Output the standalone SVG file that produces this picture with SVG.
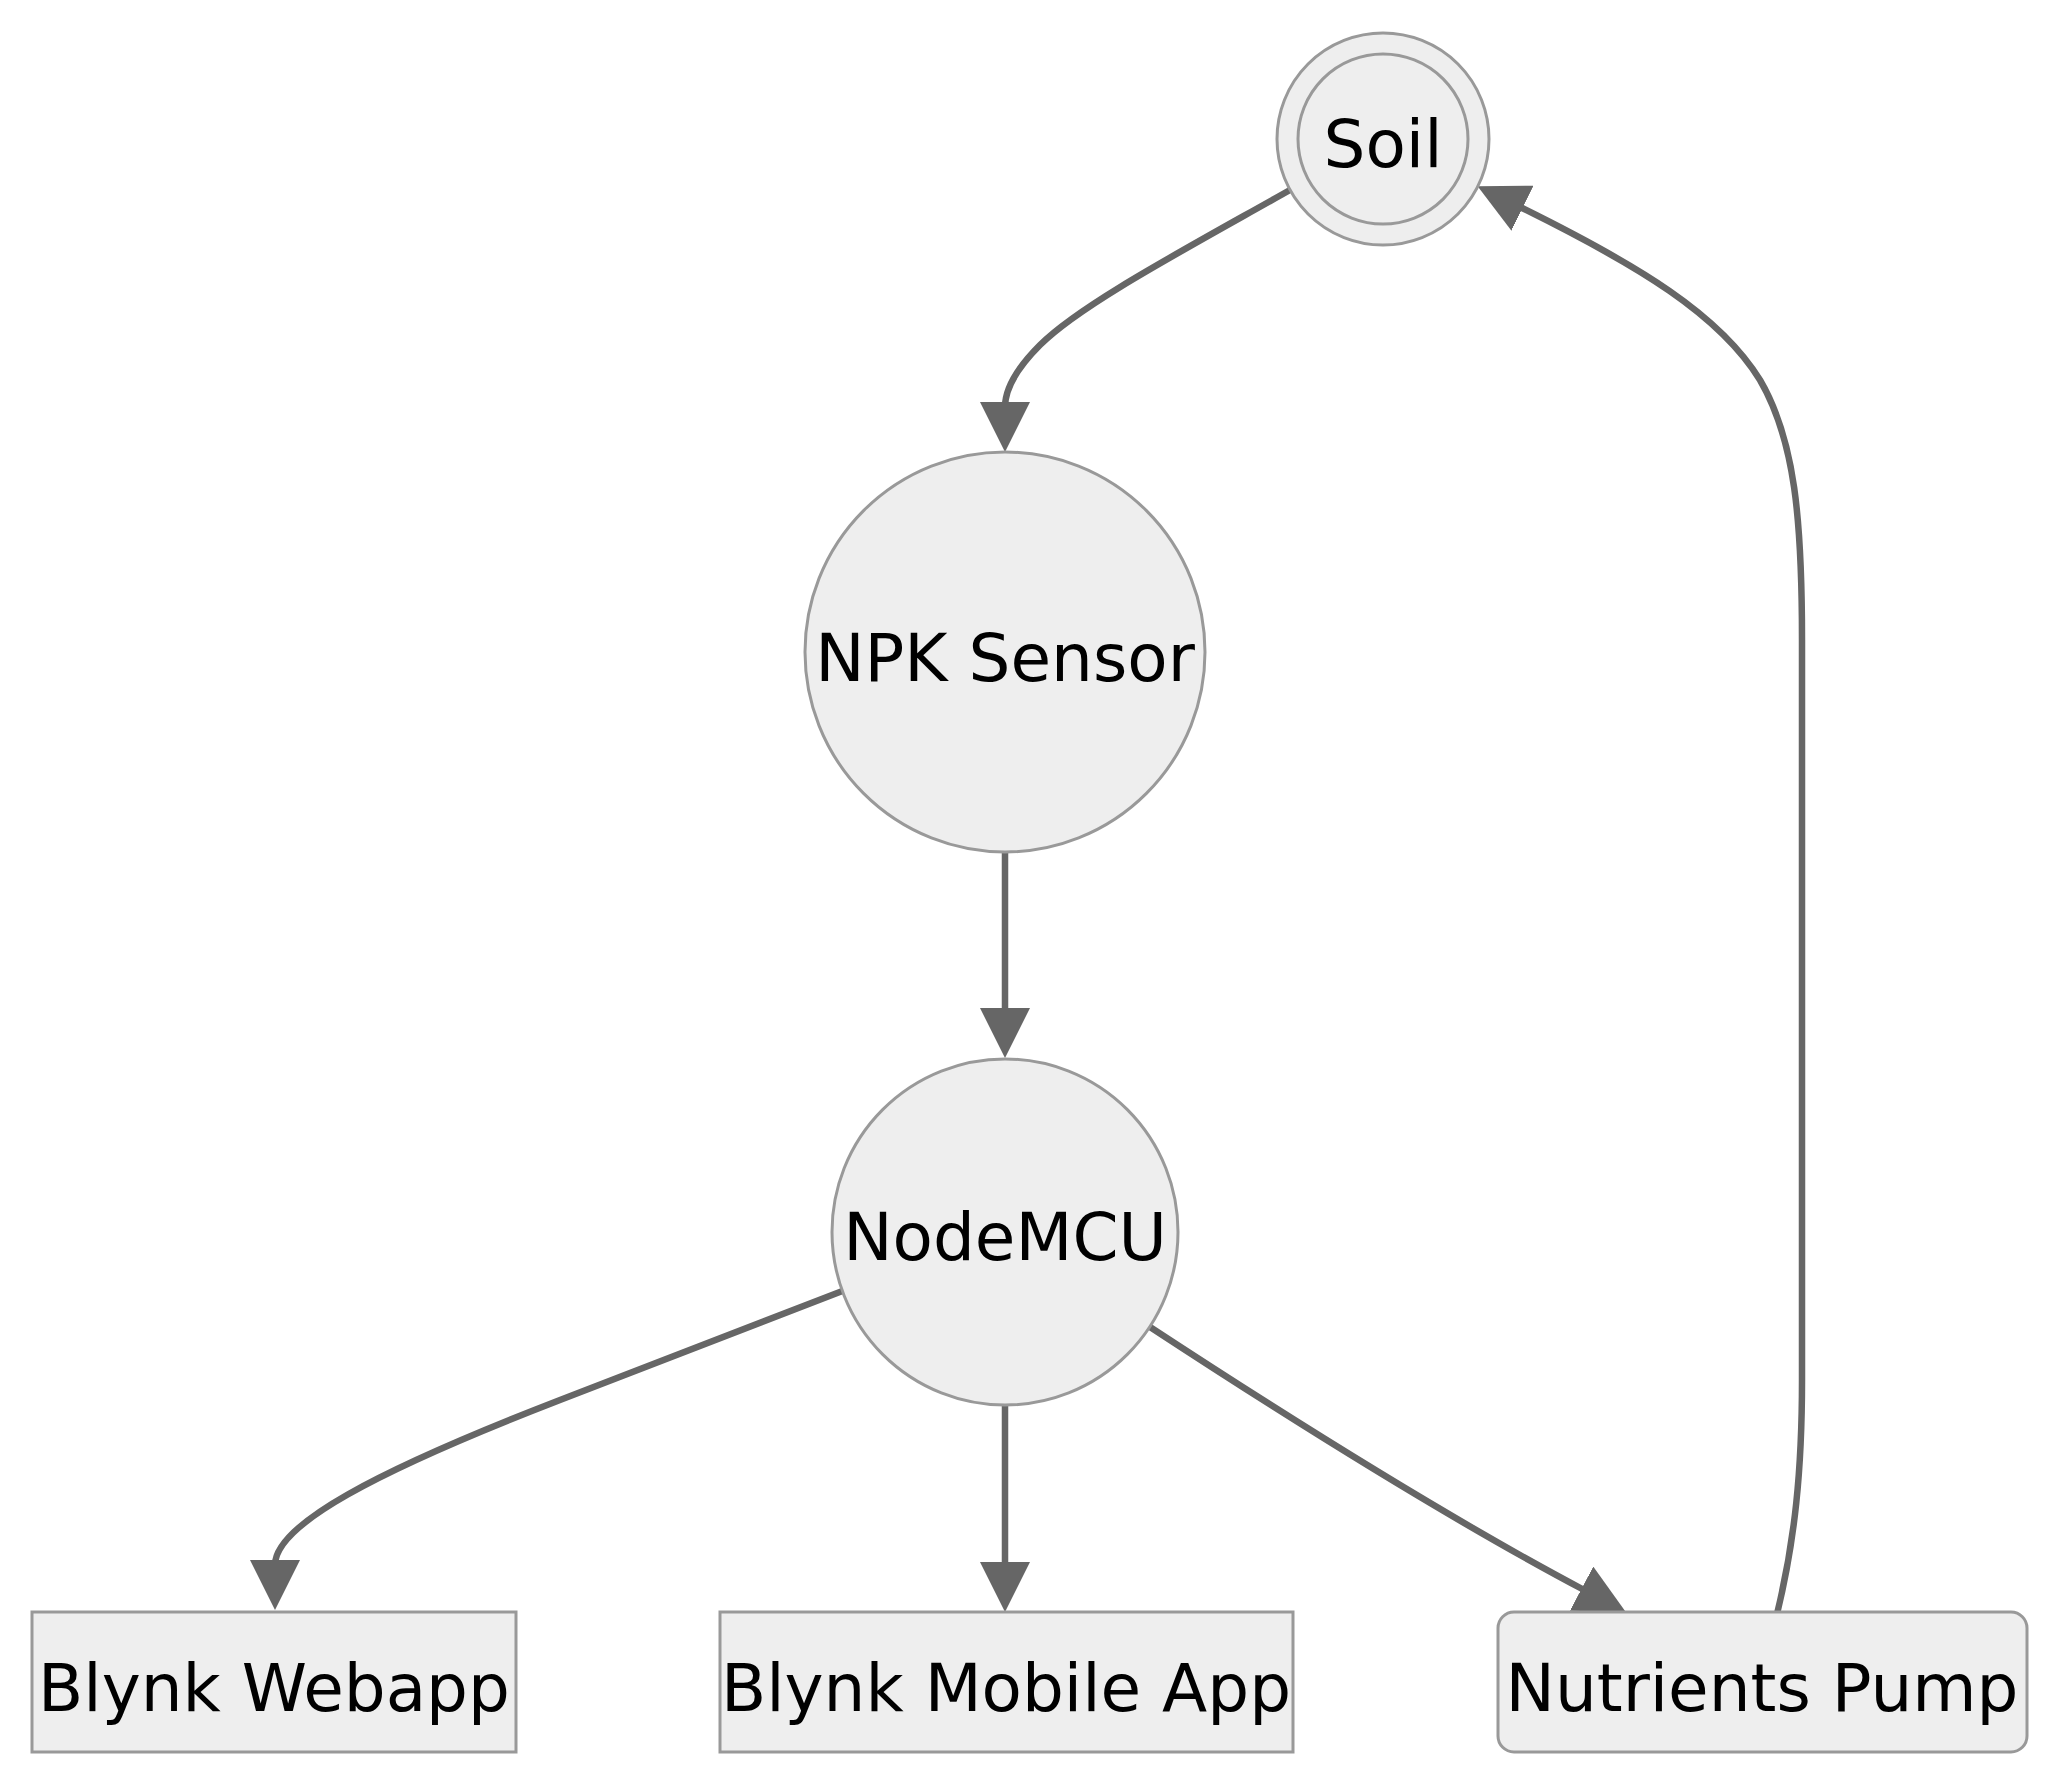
<svg xmlns="http://www.w3.org/2000/svg" width="2056" height="1785" viewBox="0 0 2056 1785">
  <style>
    .node { fill: #eeeeee; stroke: #999999; stroke-width: 3; }
    .edge { fill: none; stroke: #666666; stroke-width: 6.5; }
    .label { font-family: "DejaVu Sans", "Liberation Sans", sans-serif; font-size: 66px; fill: #000000; text-anchor: middle; }
  </style>
  <defs>
    <marker id="arrow" viewBox="0 0 10 10" refX="1" refY="5" markerUnits="userSpaceOnUse" markerWidth="50" markerHeight="50" orient="auto">
      <path d="M 0 0 L 10 5 L 0 10 z" fill="#666666"/>
    </marker>
  </defs>
  <rect width="2056" height="1785" fill="#ffffff"/>
  <g id="connectors">
    <path class="edge" marker-end="url(#arrow)" d="M 1290 190 C 1180 252, 1080 305, 1040 345 C 1015 370, 1005 390, 1005 407"/>
    <path class="edge" marker-end="url(#arrow)" d="M 1005 852 L 1005 1013"/>
    <path class="edge" marker-end="url(#arrow)" d="M 845 1290 L 560 1400 C 374 1472, 275 1525, 275 1565"/>
    <path class="edge" marker-end="url(#arrow)" d="M 1005 1405 L 1005 1567"/>
    <path class="edge" marker-end="url(#arrow)" d="M 1150 1327 C 1330 1445, 1480 1535, 1586 1591"/>
    <path class="edge" marker-end="url(#arrow)" d="M 1777 1614 C 1795 1540, 1802 1470, 1802 1380 L 1802 640 C 1802 520, 1795 440, 1760 380 C 1720 315, 1640 266, 1518 206"/>
  </g>
  <g id="node-soil">
    <circle class="node" cx="1383" cy="139" r="106"/>
    <circle class="node" cx="1383" cy="139" r="85"/>
    <text class="label" x="1383" y="167">Soil</text>
  </g>
  <g id="node-npk">
    <circle class="node" cx="1005" cy="652" r="200"/>
    <text class="label" x="1005" y="681">NPK Sensor</text>
  </g>
  <g id="node-nodemcu">
    <circle class="node" cx="1005" cy="1232" r="173"/>
    <text class="label" x="1005" y="1260">NodeMCU</text>
  </g>
  <g id="node-webapp">
    <rect class="node" x="32" y="1612" width="484" height="140"/>
    <text class="label" x="274" y="1711">Blynk Webapp</text>
  </g>
  <g id="node-mobile">
    <rect class="node" x="720" y="1612" width="573" height="140"/>
    <text class="label" x="1006" y="1711">Blynk Mobile App</text>
  </g>
  <g id="node-pump">
    <rect class="node" x="1498" y="1612" width="529" height="140" rx="16" ry="16"/>
    <text class="label" x="1762" y="1711">Nutrients Pump</text>
  </g>
</svg>
